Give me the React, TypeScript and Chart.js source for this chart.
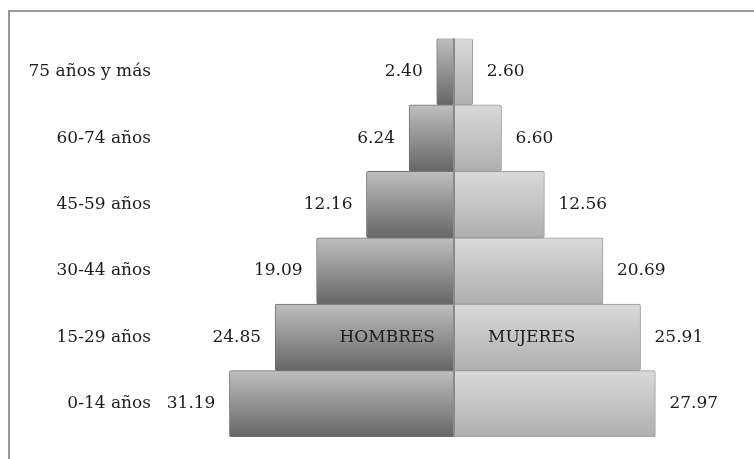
import React, { useEffect, useRef } from "react";
import { Chart, registerables } from "chart.js";

Chart.register(...registerables);

// Data (top to bottom)
const categories = ["75 años y más", "60-74 años", "45-59 años", "30-44 años", "15-29 años", "0-14 años"];
const hombres = [2.40, 6.24, 12.16, 19.09, 24.85, 31.19];
const mujeres = [2.60, 6.60, 12.56, 20.69, 25.91, 27.97];
const seriesNames = ["HOMBRES", "MUJERES"];
const seriesLabelRow = 4; // row where series names are written inside the bars
const xLimit = 32;

const FONT_FAMILY = "'DejaVu Serif', serif";
const FONT_SIZE = 17;
const TEXT_COLOR = "#1c1c1c";

function makeGradient(top: string, bottom: string) {
  return (ctx: any) => {
    const chart = ctx.chart;
    const y = chart.scales && chart.scales.y;
    if (!y || ctx.dataIndex === undefined || !chart.chartArea) return bottom;
    const band = (y.bottom - y.top) / categories.length;
    const c = y.getPixelForValue(ctx.dataIndex);
    const g = chart.ctx.createLinearGradient(0, c - band / 2, 0, c + band / 2);
    g.addColorStop(0, top);
    g.addColorStop(1, bottom);
    return g;
  };
}

const overlayPlugin = {
  id: "pyramidOverlay",
  afterDatasetsDraw(chart: any) {
    const { ctx, chartArea, scales } = chart;
    const x0 = scales.x.getPixelForValue(0);
    ctx.save();
    // center line
    ctx.strokeStyle = "#8a8a8a";
    ctx.lineWidth = 2;
    ctx.beginPath();
    ctx.moveTo(x0, chartArea.top);
    ctx.lineTo(x0, chartArea.bottom);
    ctx.stroke();

    ctx.font = `${FONT_SIZE}px ${FONT_FAMILY}`;
    ctx.fillStyle = TEXT_COLOR;
    ctx.textBaseline = "middle";
    // value labels
    chart.data.datasets.forEach((ds: any, di: number) => {
      const meta = chart.getDatasetMeta(di);
      meta.data.forEach((el: any, i: number) => {
        const val = di === 0 ? hombres[i] : mujeres[i];
        if (di === 0) {
          ctx.textAlign = "right";
          ctx.fillText(val.toFixed(2), el.x - 14, el.y);
        } else {
          ctx.textAlign = "left";
          ctx.fillText(val.toFixed(2), el.x + 14, el.y);
        }
      });
    });
    // series names inside bars
    const yc = scales.y.getPixelForValue(seriesLabelRow);
    ctx.textAlign = "right";
    ctx.fillText(seriesNames[0], x0 - 19, yc);
    ctx.textAlign = "left";
    ctx.fillText(seriesNames[1], x0 + 34, yc);
    ctx.restore();
  },
};

export default function App() {
  const canvasRef = useRef<HTMLCanvasElement | null>(null);

  useEffect(() => {
    if (!canvasRef.current) return;
    const chart = new Chart(canvasRef.current, {
      type: "bar",
      data: {
        labels: categories,
        datasets: [
          {
            label: seriesNames[0],
            data: hombres.map((v) => -v),
            backgroundColor: makeGradient("#bebebe", "#666666"),
            borderColor: "#727272",
            borderWidth: 1,
            borderRadius: 2,
            barPercentage: 1,
            categoryPercentage: 1,
          },
          {
            label: seriesNames[1],
            data: mujeres,
            backgroundColor: makeGradient("#d9d9d9", "#afafaf"),
            borderColor: "#9c9c9c",
            borderWidth: 1,
            borderRadius: 2,
            barPercentage: 1,
            categoryPercentage: 1,
          },
        ],
      },
      options: {
        indexAxis: "y",
        responsive: false,
        animation: false,
        layout: { padding: { top: 26.5, bottom: 22, left: 0, right: 69.6 } },
        plugins: {
          legend: { display: false },
          tooltip: { enabled: false },
        },
        scales: {
          x: {
            stacked: true,
            display: false,
            min: -xLimit,
            max: xLimit,
          },
          y: {
            stacked: true,
            grid: { display: false, drawTicks: false },
            border: { display: false },
            ticks: {
              padding: 72.6,
              color: TEXT_COLOR,
              font: { family: FONT_FAMILY, size: FONT_SIZE },
            },
            afterFit(scale: any) {
              scale.width = 213.6;
              scale.paddingTop = 0;
              scale.paddingBottom = 0;
            },
          },
        },
      },
      plugins: [overlayPlugin],
    } as any);
    return () => chart.destroy();
  }, []);

  return (
    <div
      style={{
        position: "fixed",
        left: 8,
        top: 10,
        width: 746,
        height: 449,
        borderTop: "2px solid #999999",
        borderLeft: "2px solid #999999",
        boxSizing: "border-box",
        background: "#ffffff",
        overflow: "hidden",
      }}
    >
      <canvas ref={canvasRef} width={744} height={447} style={{ display: "block" }} />
    </div>
  );
}
